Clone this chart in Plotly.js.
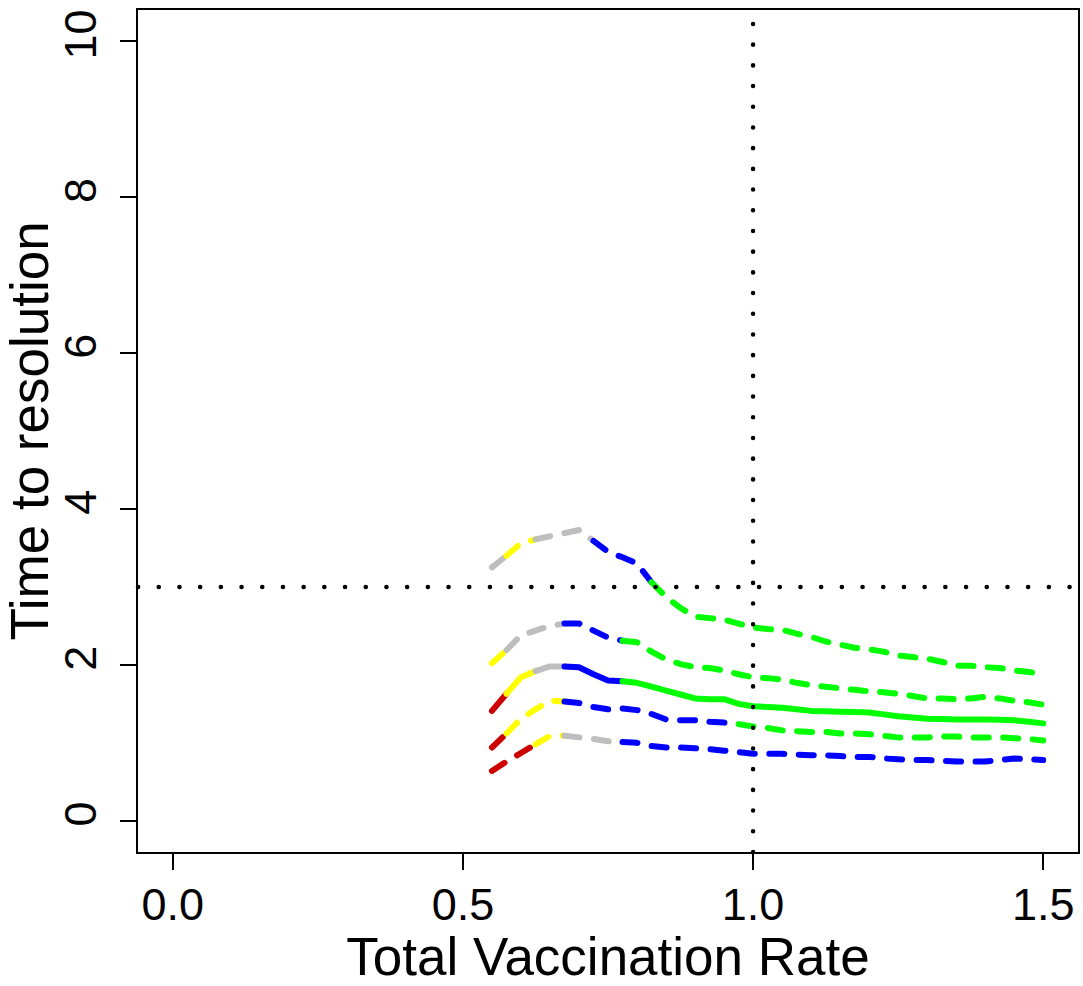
<!DOCTYPE html>
<html>
<head>
<meta charset="utf-8">
<script src="https://cdn.plot.ly/plotly-3.0.1.min.js"></script>
<style>
  html, body { margin: 0; padding: 0; background: #fff; }
  .js-plotly-plot .scatterlayer path.js-line { stroke-linecap: round !important; stroke-linejoin: round !important; }
  .js-plotly-plot .shapelayer path { stroke-linecap: round !important; }
</style>
</head>
<body>
<div id="chart" style="width:1083px;height:986px;"></div>
<script>
// Total vaccination rate grid
const rates = [0.55, 0.575, 0.6, 0.625, 0.65, 0.675, 0.7, 0.725, 0.75, 0.775,
               0.8, 0.825, 0.85, 0.875, 0.9, 0.925, 0.95, 0.975, 1.0, 1.025,
               1.05, 1.075, 1.1, 1.125, 1.15, 1.175, 1.2, 1.225, 1.25, 1.275,
               1.3, 1.325, 1.35, 1.375, 1.4, 1.425, 1.45, 1.475, 1.5];

// Time to resolution, five curves (top to bottom)
const timeUpper95 = [3.25, 3.40, 3.56, 3.61, 3.65, 3.69, 3.73, 3.59, 3.45, 3.38,
                     3.30, 3.06, 2.87, 2.73, 2.62, 2.60, 2.58, 2.53, 2.48, 2.46,
                     2.45, 2.40, 2.36, 2.30, 2.26, 2.22, 2.20, 2.17, 2.12, 2.10,
                     2.08, 2.04, 1.99, 1.99, 1.97, 1.96, 1.93, 1.91, 1.88];
const timeUpper75 = [2.02, 2.19, 2.38, 2.44, 2.50, 2.53, 2.53, 2.44, 2.35, 2.31,
                     2.29, 2.17, 2.07, 2.01, 1.97, 1.96, 1.93, 1.88, 1.84, 1.83,
                     1.81, 1.77, 1.74, 1.72, 1.70, 1.68, 1.66, 1.65, 1.63, 1.60,
                     1.57, 1.57, 1.56, 1.57, 1.59, 1.57, 1.54, 1.52, 1.49];
const timeMedian   = [1.41, 1.63, 1.84, 1.92, 1.98, 1.98, 1.97, 1.88, 1.80, 1.79,
                     1.77, 1.72, 1.67, 1.62, 1.57, 1.56, 1.56, 1.50, 1.47, 1.46,
                     1.45, 1.43, 1.41, 1.405, 1.40, 1.395, 1.39, 1.365, 1.34, 1.325,
                     1.31, 1.305, 1.30, 1.30, 1.30, 1.295, 1.29, 1.27, 1.25];
const timeLower25 = [0.94, 1.12, 1.31, 1.43, 1.54, 1.53, 1.51, 1.46, 1.43, 1.44,
                     1.42, 1.37, 1.30, 1.29, 1.29, 1.27, 1.26, 1.24, 1.21, 1.19,
                     1.16, 1.15, 1.14, 1.14, 1.12, 1.12, 1.11, 1.09, 1.07, 1.07,
                     1.07, 1.08, 1.08, 1.07, 1.07, 1.07, 1.06, 1.05, 1.03];
const timeLower05 = [0.64, 0.76, 0.87, 0.98, 1.09, 1.09, 1.07, 1.05, 1.02, 1.01,
                     1.00, 0.96, 0.94, 0.94, 0.93, 0.92, 0.90, 0.88, 0.86, 0.86,
                     0.86, 0.85, 0.84, 0.84, 0.83, 0.82, 0.82, 0.80, 0.79, 0.78,
                     0.78, 0.77, 0.76, 0.76, 0.76, 0.78, 0.80, 0.79, 0.78];

// Colour categories along each curve: band start rates and category
const bandStartsUpper95 = [0.55, 0.575, 0.625, 0.725, 0.825];
const bandCatsUpper95   = ['gray', 'yellow', 'gray', 'blue', 'green'];
const bandStartsUpper75 = [0.55, 0.575, 0.675, 0.775];
const bandCatsUpper75   = ['yellow', 'gray', 'blue', 'green'];
const bandStartsMedian  = [0.55, 0.575, 0.625, 0.675, 0.775];
const bandCatsMedian    = ['red', 'yellow', 'gray', 'blue', 'green'];
const bandStartsLower25 = [0.55, 0.575, 0.675, 0.975];
const bandCatsLower25   = ['red', 'yellow', 'blue', 'green'];
const bandStartsLower05 = [0.55, 0.625, 0.675, 0.775];
const bandCatsLower05   = ['red', 'yellow', 'gray', 'blue'];

// Reference thresholds
const thresholdRate = [1.0];
const thresholdTime = [3];

const xTickVals = [0, 0.5, 1.0, 1.5];
const xTickText = ['0.0', '0.5', '1.0', '1.5'];
const yTickVals = [0, 2, 4, 6, 8, 10];
const yTickText = ['0', '2', '4', '6', '8', '10'];

const palette = { red: '#CD0000', yellow: '#FFFF00', gray: '#BEBEBE', blue: '#0000FF', green: '#00FF00' };
const DASH = '15px,14.5px';

const curves = [
  { y: timeUpper95, starts: bandStartsUpper95, cats: bandCatsUpper95, dash: DASH },
  { y: timeUpper75, starts: bandStartsUpper75, cats: bandCatsUpper75, dash: DASH },
  { y: timeMedian,  starts: bandStartsMedian,  cats: bandCatsMedian,  dash: 'solid' },
  { y: timeLower25, starts: bandStartsLower25, cats: bandCatsLower25, dash: DASH },
  { y: timeLower05, starts: bandStartsLower05, cats: bandCatsLower05, dash: DASH }
];

const eps = 1e-9;
const traces = [];
curves.forEach(c => {
  c.starts.forEach((s, i) => {
    const e = (i + 1 < c.starts.length) ? c.starts[i + 1] : rates[rates.length - 1];
    const xs = [], ys = [];
    rates.forEach((r, k) => {
      if (r >= s - eps && r <= e + eps) { xs.push(r); ys.push(c.y[k]); }
    });
    traces.push({
      x: xs, y: ys, type: 'scatter', mode: 'lines',
      line: { color: palette[c.cats[i]], width: 6, dash: c.dash, simplify: false },
      hoverinfo: 'skip', showlegend: false
    });
  });
});

const FONT = '"Liberation Sans", Arial, Helvetica, sans-serif';

const layout = {
  width: 1083, height: 986,
  margin: { l: 138, r: 5, t: 10, b: 134, pad: 0 },
  paper_bgcolor: '#ffffff', plot_bgcolor: '#ffffff',
  font: { family: FONT, color: '#000000' },
  showlegend: false,
  xaxis: {
    range: [-0.06, 1.56], autorange: false,
    tickvals: xTickVals, ticktext: xTickText,
    ticks: 'outside', ticklen: 16, tickwidth: 2, tickcolor: '#000',
    showline: true, mirror: true, linecolor: '#000', linewidth: 2,
    showgrid: false, zeroline: false,
    tickfont: { size: 45, family: FONT, color: '#000' },
    ticklabelstandoff: -4,
    title: { text: 'Total Vaccination Rate', font: { size: 53, family: FONT, color: '#000' }, standoff: 20 },
    automargin: false
  },
  yaxis: {
    range: [-0.4, 10.4], autorange: false,
    tickvals: yTickVals, ticktext: yTickText, tickangle: -90,
    ticks: 'outside', ticklen: 16, tickwidth: 2, tickcolor: '#000',
    showline: true, mirror: true, linecolor: '#000', linewidth: 2,
    showgrid: false, zeroline: false,
    tickfont: { size: 45, family: FONT, color: '#000' },
    ticklabelstandoff: 6,
    title: { text: 'Time to resolution', font: { size: 53, family: FONT, color: '#000' }, standoff: 10 },
    automargin: false
  },
  shapes: [
    { type: 'line', xref: 'paper', yref: 'y', x0: 0, x1: 1, y0: thresholdTime[0], y1: thresholdTime[0],
      line: { color: '#000', width: 4.5, dash: '0.1px,20.6px' }, layer: 'above' },
    { type: 'line', xref: 'x', yref: 'paper', x0: thresholdRate[0], x1: thresholdRate[0], y0: 0, y1: 1,
      line: { color: '#000', width: 4.5, dash: '0.1px,20.6px' }, layer: 'above' }
  ]
};

Plotly.newPlot('chart', traces, layout, { staticPlot: true, displayModeBar: false }).then(gd => {
  gd.querySelectorAll('.scatterlayer path.js-line, .shapelayer path').forEach(p => {
    p.style.strokeLinecap = 'round';
    p.style.strokeLinejoin = 'round';
  });
});
</script>
</body>
</html>
